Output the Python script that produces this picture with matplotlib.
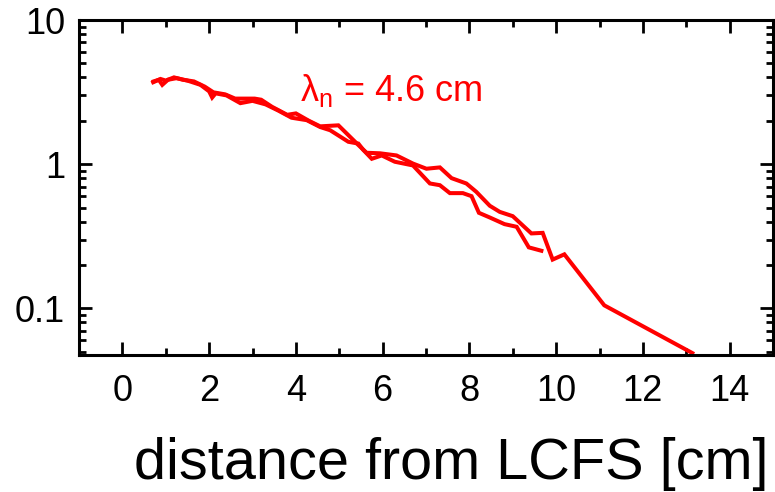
import numpy as np
import matplotlib
matplotlib.use("Agg")
import matplotlib.pyplot as plt
from matplotlib.ticker import MultipleLocator, LogLocator, FixedLocator, FixedFormatter, NullFormatter

plt.rcParams['font.family'] = ['Liberation Sans', 'DejaVu Sans']
plt.rcParams['mathtext.fontset'] = 'custom'
plt.rcParams['mathtext.rm'] = 'Liberation Sans'
plt.rcParams['mathtext.it'] = 'Liberation Sans'
plt.rcParams['mathtext.bf'] = 'Liberation Sans'

# long profile (reaches 13 cm)
x_a = [0.71, 0.88, 1.0, 1.19, 1.4, 1.65, 1.9, 2.1, 2.37, 2.6, 3.05, 3.2, 3.45,
       3.8, 4.0, 4.3, 4.56, 4.98, 5.45, 5.63, 5.94, 6.32, 6.70, 7.01, 7.32,
       7.59, 7.93, 8.16, 8.47, 8.70, 9.0, 9.43, 9.69, 9.92, 10.19, 11.11, 13.14]
y_a = [3.7, 3.9, 3.8, 4.0, 3.85, 3.75, 3.45, 3.15, 3.05, 2.85, 2.85, 2.8, 2.5,
       2.2, 2.25, 2.0, 1.83, 1.86, 1.35, 1.2, 1.19, 1.15, 1.01, 0.93, 0.95,
       0.80, 0.735, 0.643, 0.515, 0.467, 0.436, 0.331, 0.334, 0.218, 0.237, 0.105, 0.049]

# short profile (ends near 9.7 cm)
x_b = [0.72, 0.84, 0.92, 1.05, 1.25, 1.5, 1.8, 2.0, 2.07, 2.15, 2.4, 2.72, 3.0,
       3.3, 3.6, 3.9, 4.25, 4.56, 4.79, 5.21, 5.44, 5.55, 5.75, 5.98, 6.28,
       6.70, 7.09, 7.32, 7.55, 7.85, 8.05, 8.22, 8.47, 8.81, 9.09, 9.37, 9.66]
y_b = [3.75, 3.85, 3.55, 3.85, 3.95, 3.8, 3.55, 3.2, 2.9, 3.1, 3.0, 2.65, 2.75,
       2.6, 2.35, 2.1, 2.02, 1.81, 1.72, 1.43, 1.39, 1.26, 1.09, 1.15, 1.04,
       0.98, 0.735, 0.715, 0.63, 0.63, 0.60, 0.46, 0.427, 0.384, 0.368, 0.265, 0.251]

x_ticks = [0, 2, 4, 6, 8, 10, 12, 14]
y_ticks = [0.1, 1, 10]
y_ticklabels = ['0.1', '1', '10']
label_text = r'$\lambda_n$ = 4.6 cm'
xlabel_text = 'distance from LCFS [cm]'

fig = plt.figure(figsize=(7.75, 4.92), dpi=100)
ax = fig.add_axes([79/775, 1 - 355/492, 694/775, 335/492])

ax.plot(x_a, y_a, color='#ff0000', lw=2.9, solid_joinstyle='miter')
ax.plot(x_b, y_b, color='#ff0000', lw=2.9, solid_joinstyle='miter')

ax.set_yscale('log')
ax.set_xlim(-1, 15)
ax.set_ylim(0.0475, 10)

ax.xaxis.set_major_locator(FixedLocator(x_ticks))
ax.xaxis.set_minor_locator(MultipleLocator(1))
ax.yaxis.set_major_locator(FixedLocator(y_ticks))
ax.yaxis.set_major_formatter(FixedFormatter(y_ticklabels))
ax.yaxis.set_minor_locator(LogLocator(base=10, subs=np.arange(2, 10)))
ax.yaxis.set_minor_formatter(NullFormatter())

ax.tick_params(which='both', direction='in', top=True, right=True, width=2, color='black')
ax.tick_params(which='major', length=9.5, labelsize=26)
ax.tick_params(which='minor', length=5)
ax.tick_params(axis='x', which='major', pad=14)
ax.tick_params(axis='y', which='major', pad=10)
for s in ax.spines.values():
    s.set_linewidth(2.2)

ax.text(4.1, 2.75, label_text, color='#ff0000', fontsize=26, ha='left', va='baseline')

fig.text(451/775, 1 - 479/492, xlabel_text, fontsize=41.5, ha='center', va='baseline')

fig.savefig('out.png', dpi=100)
